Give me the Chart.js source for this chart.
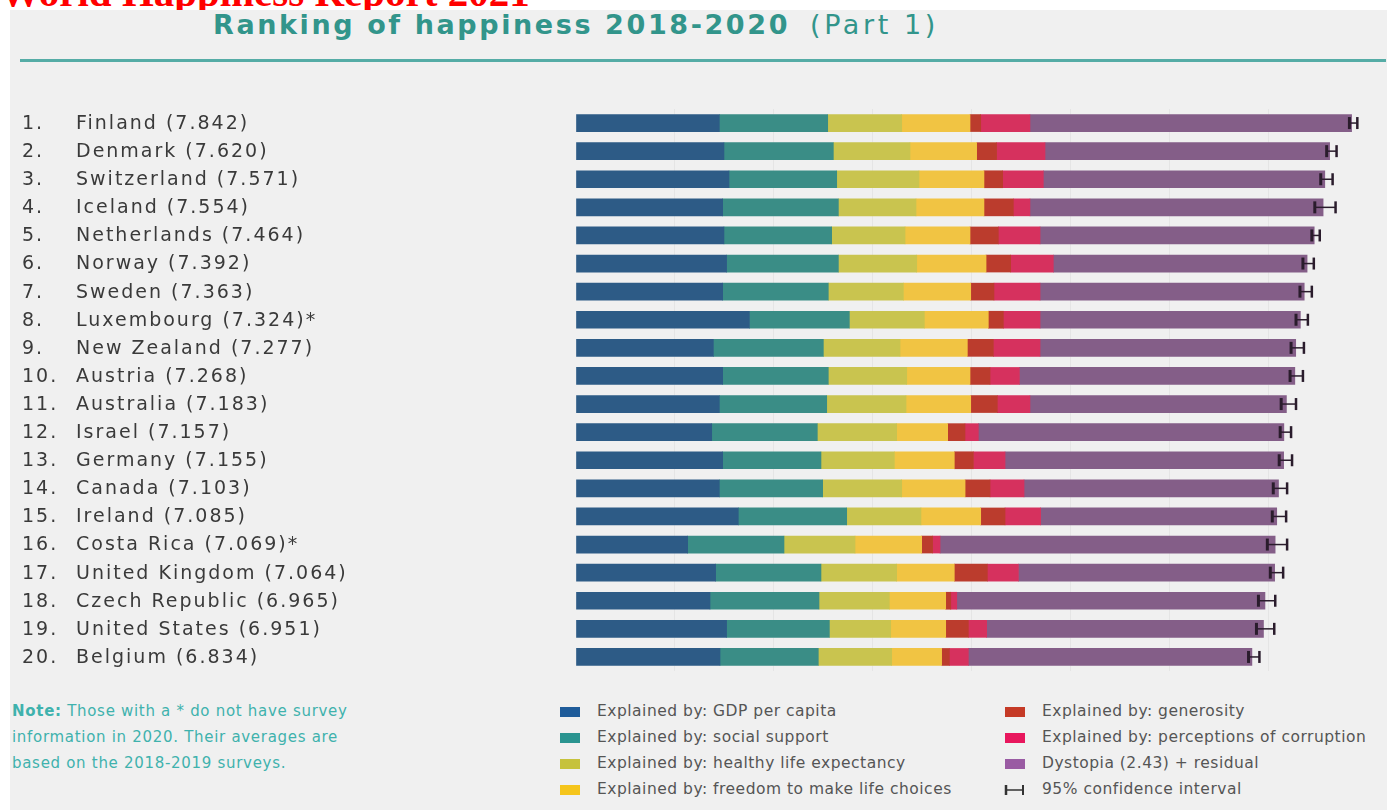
<!DOCTYPE html>
<html>
<head>
<meta charset="utf-8">
<script src="https://cdn.jsdelivr.net/npm/chart.js@4.4.1/dist/chart.umd.min.js"></script>
<style>
  html, body { margin: 0; padding: 0; background: #fff; }
  body { width: 1389px; height: 810px; position: relative; overflow: hidden; font-family: "DejaVu Sans", sans-serif; }
  #redTitle { position: absolute; left: 0; top: -28px; font: bold 41px/41px "Liberation Serif", serif; color: #f00; white-space: nowrap; }
  #panel { position: absolute; left: 10px; top: 10px; width: 1377px; height: 800px; background: #f0f0f0; }
  #title { position: absolute; left: 213px; top: 8px; font-size: 27px; line-height: 34px; color: #32958b; white-space: nowrap; letter-spacing: 2.6px; }
  #title b { font-weight: bold; }
  #title span { margin-left: 20px; letter-spacing: 3.6px; }
  #rule { position: absolute; left: 20px; top: 59px; width: 1366px; height: 3px; background: #55aca6; }
  #note { position: absolute; left: 12px; top: 698px; font-size: 15px; line-height: 26px; color: #3fb2ad; letter-spacing: 0.7px; }
  .leg { position: absolute; font-size: 15.5px; color: #555; white-space: nowrap; letter-spacing: 0.5px; }
  .leg i { position: absolute; left: -37px; top: 5px; width: 20px; height: 10px; }
  #chart { position: absolute; left: 0; top: 0; }
</style>
</head>
<body>
<div id="redTitle">World Happiness Report 2021</div>
<div id="panel"></div>
<div id="title"><b>Ranking of happiness 2018-2020</b><span>(Part 1)</span></div>
<div id="rule"></div>
<div id="note"><b>Note:</b> Those with a * do not have survey<br>information in 2020. Their averages are<br>based on the 2018-2019 surveys.</div>
<div id="legend"></div>
<canvas id="chart" width="1389" height="810"></canvas>
<script>
// countries, ranked
const countries = ['Finland', 'Denmark', 'Switzerland', 'Iceland', 'Netherlands', 'Norway', 'Sweden',
  'Luxembourg', 'New Zealand', 'Austria', 'Australia', 'Israel', 'Germany', 'Canada', 'Ireland',
  'Costa Rica', 'United Kingdom', 'Czech Republic', 'United States', 'Belgium'];
const scores = [7.842, 7.620, 7.571, 7.554, 7.464, 7.392, 7.363, 7.324, 7.277, 7.268,
  7.183, 7.157, 7.155, 7.103, 7.085, 7.069, 7.064, 6.965, 6.951, 6.834];
// no 2020 survey
const starred = ['Luxembourg', 'Costa Rica'];

// score components
const gdp = [1.449, 1.496, 1.547, 1.483, 1.496, 1.523, 1.483, 1.753, 1.389, 1.483,
  1.449, 1.372, 1.483, 1.449, 1.641, 1.129, 1.412, 1.355, 1.523, 1.456];
const social = [1.096, 1.106, 1.089, 1.170, 1.089, 1.130, 1.068, 1.011, 1.112, 1.068,
  1.086, 1.068, 0.994, 1.045, 1.096, 0.974, 1.065, 1.102, 1.039, 0.994];
const health = [0.748, 0.775, 0.832, 0.785, 0.742, 0.792, 0.759, 0.758, 0.775, 0.793,
  0.802, 0.802, 0.742, 0.799, 0.751, 0.718, 0.765, 0.711, 0.620, 0.742];
const freedom = [0.691, 0.674, 0.657, 0.687, 0.657, 0.701, 0.681, 0.647, 0.681, 0.640,
  0.654, 0.516, 0.606, 0.641, 0.604, 0.674, 0.583, 0.570, 0.556, 0.505];
const generosity = [0.108, 0.202, 0.189, 0.297, 0.286, 0.249, 0.235, 0.152, 0.263, 0.202,
  0.269, 0.175, 0.193, 0.252, 0.246, 0.111, 0.334, 0.051, 0.229, 0.078];
const corruption = [0.498, 0.489, 0.411, 0.168, 0.422, 0.431, 0.466, 0.371, 0.472, 0.297,
  0.330, 0.135, 0.320, 0.344, 0.360, 0.075, 0.314, 0.061, 0.185, 0.192];
const dystopia = [3.252, 2.878, 2.846, 2.964, 2.772, 2.566, 2.671, 2.632, 2.585, 2.785,
  2.593, 3.089, 2.817, 2.573, 2.387, 3.388, 2.591, 3.116, 2.799, 2.867];

// 95% confidence interval
const ciLow = [7.82, 7.59, 7.53, 7.47, 7.44, 7.35, 7.32, 7.28, 7.23, 7.22,
  7.13, 7.12, 7.11, 7.05, 7.04, 6.99, 7.02, 6.90, 6.88, 6.80];
const ciHigh = [7.90, 7.69, 7.65, 7.68, 7.52, 7.46, 7.44, 7.40, 7.36, 7.35,
  7.28, 7.23, 7.24, 7.19, 7.18, 7.19, 7.15, 7.07, 7.06, 6.91];

const seriesNames = ['Explained by: GDP per capita', 'Explained by: social support',
  'Explained by: healthy life expectancy', 'Explained by: freedom to make life choices',
  'Explained by: generosity', 'Explained by: perceptions of corruption', 'Dystopia (2.43) + residual'];

const barColors = ['#2d5b86', '#3a8d86', '#c9c44f', '#f1c443', '#bb3c2d', '#d6315e', '#845e88'];
const swatchColors = ['#1f5c9a', '#2a9490', '#c6c23c', '#f5c51c', '#c53a26', '#e8175d', '#9a5ba3'];

const labels = countries.map((c, i) =>
  c + ' (' + scores[i].toFixed(3) + ')' + (starred.includes(c) ? '*' : ''));

// legend (two columns, html)
const legendBox = document.getElementById('legend');
const legendItems = seriesNames.map((n, i) => ({ text: n, color: swatchColors[i] }));
legendItems.push({ text: '95% confidence interval', ci: true });
legendItems.forEach((it, i) => {
  const col = i < 4 ? 0 : 1;
  const row = i % 4;
  const d = document.createElement('div');
  d.className = 'leg';
  d.style.left = (col ? 1042 : 597) + 'px';
  d.style.top = (702 + row * 26) + 'px';
  if (it.ci) {
    d.innerHTML = '<svg style="position:absolute;left:-38px;top:4px" width="22" height="12">' +
      '<line x1="2" y1="1" x2="2" y2="11" stroke="#333" stroke-width="2.5"/>' +
      '<line x1="2" y1="6" x2="19" y2="6" stroke="#333" stroke-width="1.5"/>' +
      '<line x1="19" y1="1" x2="19" y2="11" stroke="#333" stroke-width="2"/></svg>' + it.text;
  } else {
    d.innerHTML = '<i style="background:' + it.color + '"></i>' + it.text;
  }
  legendBox.appendChild(d);
});

// row labels: rank + country (score)
const rowLabels = {
  id: 'rowLabels',
  afterDraw(chart) {
    const ctx = chart.ctx;
    const y = chart.scales.y;
    ctx.save();
    ctx.fillStyle = '#3a3a3a';
    ctx.font = '19px "DejaVu Sans"';
    ctx.textBaseline = 'middle';
    ctx.textAlign = 'left';
    ctx.letterSpacing = '2px';
    labels.forEach((l, i) => {
      const py = y.getPixelForValue(i) + 1;
      ctx.fillText((i + 1) + '.', 22, py);
      ctx.fillText(l, 76, py);
    });
    ctx.restore();
  }
};

// confidence interval whiskers
const whiskers = {
  id: 'whiskers',
  afterDatasetsDraw(chart) {
    const ctx = chart.ctx;
    const x = chart.scales.x, y = chart.scales.y;
    ctx.save();
    ctx.strokeStyle = '#2a1c2c';
    ciLow.forEach((lo, i) => {
      const py = y.getPixelForValue(i);
      const x1 = x.getPixelForValue(lo);
      const x2 = x.getPixelForValue(ciHigh[i]);
      ctx.lineWidth = 1.5;
      ctx.beginPath(); ctx.moveTo(x1, py); ctx.lineTo(x2, py); ctx.stroke();
      ctx.lineWidth = 3;
      ctx.beginPath(); ctx.moveTo(x1, py - 6); ctx.lineTo(x1, py + 6); ctx.stroke();
      ctx.lineWidth = 2.5;
      ctx.beginPath(); ctx.moveTo(x2, py - 6); ctx.lineTo(x2, py + 6); ctx.stroke();
    });
    ctx.restore();
  }
};

const series = [gdp, social, health, freedom, generosity, corruption, dystopia];

new Chart(document.getElementById('chart'), {
  type: 'bar',
  data: {
    labels: labels,
    datasets: series.map((s, i) => ({
      label: seriesNames[i],
      data: s,
      backgroundColor: barColors[i],
      borderWidth: 0,
      barThickness: 17
    }))
  },
  options: {
    animation: false,
    responsive: false,
    devicePixelRatio: 1,
    indexAxis: 'y',
    layout: { padding: { left: 576, right: 2, top: 109, bottom: 139 } },
    scales: {
      x: {
        stacked: true,
        min: 0,
        max: 8.2,
        ticks: { display: false, stepSize: 1 },
        border: { display: false },
        grid: {
          drawTicks: false,
          color: c => (Number.isInteger(c.tick.value) && c.tick.value > 0) ? 'rgba(0,0,0,0.045)' : 'transparent'
        }
      },
      y: { stacked: true, display: false }
    },
    plugins: {
      legend: { display: false },
      tooltip: { enabled: false }
    }
  },
  plugins: [rowLabels, whiskers]
});
</script>
</body>
</html>
